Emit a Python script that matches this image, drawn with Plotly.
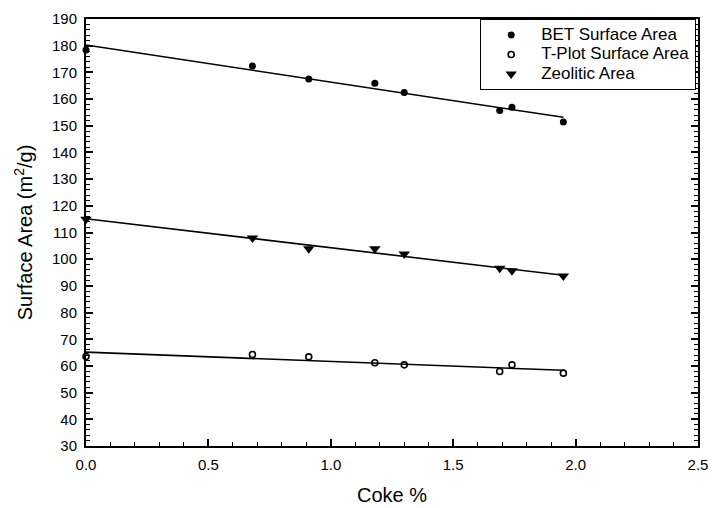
import numpy as np
import plotly.graph_objects as go

# Coke content (wt %) of the samples
coke = [0.0, 0.68, 0.91, 1.18, 1.30, 1.69, 1.74, 1.95]

# Surface areas (m2/g)
bet_area = [178.4, 172.4, 167.5, 165.9, 162.5, 155.7, 156.9, 151.4]
tplot_area = [63.5, 64.3, 63.4, 61.2, 60.4, 57.9, 60.4, 57.3]
zeolitic_area = [115.0, 107.9, 103.9, 103.9, 101.9, 96.6, 95.7, 93.7]

FONT = "Liberation Sans, Arial, sans-serif"


def legend_label(text):
    # larger glyphs than the legend's base size, which sets the row spacing
    return f"<span style='font-size:17px'>{text}</span>"


fig = go.Figure()

series = [
    ("BET Surface Area", bet_area, dict(symbol="circle", size=7, color="black")),
    ("T-Plot Surface Area", tplot_area,
     dict(symbol="circle-open", size=6, color="black", line=dict(width=1.6, color="black"))),
    ("Zeolitic Area", zeolitic_area, dict(symbol="triangle-down", size=10, color="black")),
]

x = np.array(coke)
x_fit = np.array([x.min(), x.max()])

# least-squares trend line for each series
for name, vals, _ in series:
    slope, icpt = np.polyfit(x, np.array(vals), 1)
    fig.add_trace(go.Scatter(
        x=x_fit, y=slope * x_fit + icpt, mode="lines",
        line=dict(color="black", width=1.6), showlegend=False, hoverinfo="skip",
        cliponaxis=False,
    ))

for name, vals, marker in series:
    fig.add_trace(go.Scatter(
        x=coke, y=vals, mode="markers", name=legend_label(name), marker=marker,
        cliponaxis=False,
    ))

axis_common = dict(
    showline=True, linecolor="black", linewidth=2,
    ticks="inside", ticklen=7, tickwidth=1.5, tickcolor="black",
    showgrid=False, zeroline=False, automargin=False,
    ticklabelstandoff=4,
    tickfont=dict(family=FONT, size=15, color="black"),
)

fig.update_xaxes(
    range=[0, 2.5], dtick=0.5, tickformat=".1f", mirror=True,
    minor=dict(dtick=0.1, ticks="inside", ticklen=4, tickcolor="black", tickwidth=1.2),
    title=dict(text="Coke %", font=dict(family=FONT, size=20, color="black"), standoff=16),
    **axis_common,
)
fig.update_yaxes(
    range=[30, 190], dtick=10, mirror="ticks",
    minor=dict(dtick=2, ticks="inside", ticklen=4, tickcolor="black", tickwidth=1.2),
    title=dict(text="Surface Area (m<sup>2</sup>/g)",
               font=dict(family=FONT, size=20, color="black"), standoff=14),
    **axis_common,
)

fig.update_layout(
    width=714, height=508,
    margin=dict(l=86, r=16, t=19, b=62),
    plot_bgcolor="white", paper_bgcolor="white",
    font=dict(family=FONT, color="black"),
    legend=dict(
        x=0.9967, y=1.0, xanchor="right", yanchor="top",
        bordercolor="black", borderwidth=1.2, bgcolor="white",
        font=dict(family=FONT, size=12.7, color="black"),
        itemwidth=50, tracegroupgap=0,
    ),
)

fig.write_html("out.html")
